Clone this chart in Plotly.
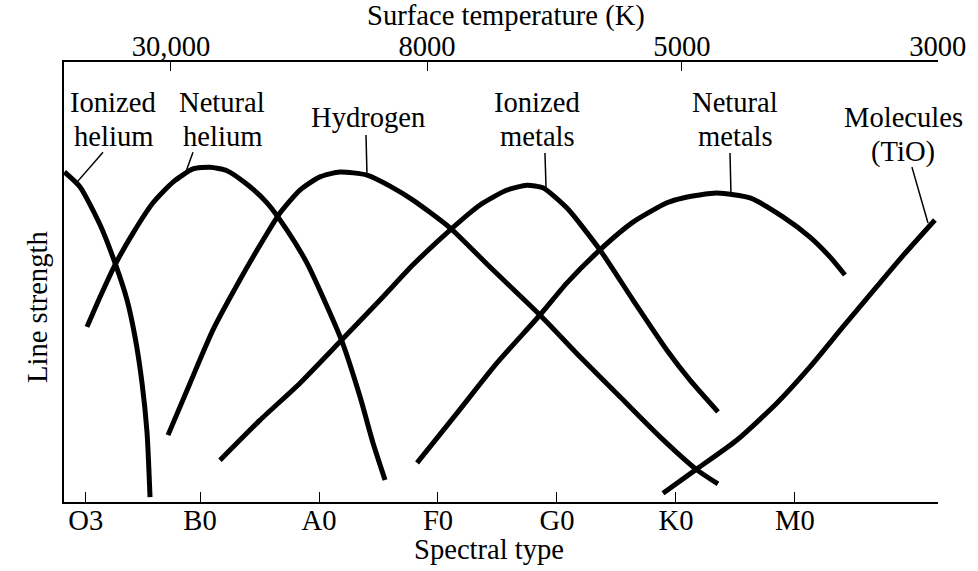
import plotly.graph_objects as go

# ---- Data (x in spectral-type units: B0=1, A0=2, ... M0=6; y = relative line strength) ----
spectral_labels = ["O3", "B0", "A0", "F0", "G0", "K0", "M0"]
spectral_pos = [0.04, 1, 2, 3, 4, 5, 6]

temp_labels = ["30,000", "8000", "5000", "3000"]
temp_pos = [0.756, 2.908, 5.05, 7.20]

ion_he_x = [-0.14, -0.008, 0.160, 0.286, 0.387, 0.454, 0.513, 0.555, 0.580]
ion_he_y = [0.75, 0.716, 0.630, 0.543, 0.459, 0.375, 0.270, 0.157, 0.011]

neu_he_x = [0.050, 0.160, 0.286, 0.437, 0.605, 0.773, 0.941, 1.084, 1.227, 1.395,
            1.563, 1.731, 1.899, 2.067, 2.193, 2.345, 2.454, 2.555]
neu_he_y = [0.398, 0.466, 0.539, 0.611, 0.680, 0.727, 0.757, 0.761, 0.753, 0.722,
            0.680, 0.618, 0.543, 0.445, 0.365, 0.239, 0.134, 0.050]

hyd_x = [0.731, 0.916, 1.109, 1.336, 1.529, 1.672, 1.840, 2.008, 2.176, 2.403,
         2.597, 2.790, 3.101, 3.437, 3.857, 4.193, 4.529, 4.866, 5.176, 5.353]
hyd_y = [0.152, 0.270, 0.391, 0.505, 0.595, 0.657, 0.709, 0.739, 0.750, 0.743,
         0.718, 0.686, 0.623, 0.534, 0.425, 0.330, 0.239, 0.148, 0.073, 0.041]

ion_met_x = [1.168, 1.504, 1.840, 2.176, 2.513, 2.790, 3.101, 3.353, 3.580, 3.748,
             3.882, 4.084, 4.361, 4.639, 4.924, 5.118, 5.353]
ion_met_y = [0.095, 0.186, 0.270, 0.364, 0.459, 0.539, 0.618, 0.675, 0.709, 0.720,
             0.714, 0.668, 0.573, 0.459, 0.345, 0.277, 0.205]

neu_met_x = [2.824, 3.160, 3.496, 3.857, 4.084, 4.361, 4.639, 4.924, 5.059, 5.345,
             5.622, 5.899, 6.126, 6.294, 6.420]
neu_met_y = [0.089, 0.202, 0.316, 0.425, 0.498, 0.573, 0.636, 0.680, 0.691, 0.702,
             0.691, 0.648, 0.602, 0.557, 0.516]

tio_x = [4.891, 5.185, 5.513, 5.849, 6.126, 6.403, 6.689, 6.908, 7.176]
tio_y = [0.020, 0.077, 0.141, 0.225, 0.307, 0.398, 0.490, 0.560, 0.641]

series = [
    (ion_he_x, ion_he_y),
    (neu_he_x, neu_he_y),
    (hyd_x, hyd_y),
    (ion_met_x, ion_met_y),
    (neu_met_x, neu_met_y),
    (tio_x, tio_y),
]

FONT = "Liberation Serif"
FS = 28.6

fig = go.Figure()
for xs, ys in series:
    fig.add_trace(go.Scatter(x=xs, y=ys, mode="lines",
                             line=dict(color="black", width=5, shape="spline", smoothing=0.6),
                             showlegend=False, hoverinfo="skip"))

# dummy trace for the top axis
fig.add_trace(go.Scatter(x=[temp_pos[0]], y=[0.5], xaxis="x2", mode="markers",
                         marker=dict(opacity=0), showlegend=False, hoverinfo="skip"))

# leader lines
leaders = [
    ((-0.034, 0.727), (0.185, 0.795)),
    ((0.874, 0.745), (0.941, 0.795)),
    ((2.403, 0.748), (2.395, 0.834)),
    ((3.908, 0.714), (3.899, 0.793)),
    ((5.462, 0.702), (5.454, 0.793)),
    ((7.118, 0.634), (6.983, 0.761)),
]
for (x0, y0), (x1, y1) in leaders:
    fig.add_shape(type="line", x0=x0, y0=y0, x1=x1, y1=y1, xref="x", yref="y",
                  line=dict(color="black", width=1.5))

labels = [
    (0.269, 0.907, "Ionized"), (0.269, 0.830, "helium"),
    (1.185, 0.907, "Netural"), (1.185, 0.830, "helium"),
    (2.412, 0.873, "Hydrogen"),
    (3.832, 0.907, "Ionized"), (3.832, 0.830, "metals"),
    (5.496, 0.907, "Netural"), (5.496, 0.830, "metals"),
    (6.908, 0.873, "Molecules"), (6.908, 0.795, "(TiO)"),
]
for x, y, t in labels:
    fig.add_annotation(x=x, y=y, xref="x", yref="y", text=t, showarrow=False,
                       font=dict(family=FONT, size=FS, color="black"),
                       xanchor="center", yanchor="middle")

fig.add_annotation(x=0.506, y=1.1045, xref="paper", yref="paper", text="Surface temperature (K)",
                   showarrow=False, font=dict(family=FONT, size=FS, color="black"),
                   xanchor="center", yanchor="middle")
fig.add_annotation(x=0.486, y=-0.107, xref="paper", yref="paper", text="Spectral type",
                   showarrow=False, font=dict(family=FONT, size=FS, color="black"),
                   xanchor="center", yanchor="middle")
fig.add_annotation(x=-0.031, y=0.443, xref="paper", yref="paper", text="Line strength",
                   showarrow=False, textangle=-90, font=dict(family=FONT, size=FS, color="black"),
                   xanchor="center", yanchor="middle")

xr = [-0.143, 7.202]
fig.update_layout(
    width=978, height=571,
    margin=dict(l=64, r=40, t=62, b=69, autoexpand=False),
    paper_bgcolor="white", plot_bgcolor="white",
    font=dict(family=FONT, size=FS, color="black"),
    xaxis=dict(range=xr, tickmode="array", tickvals=spectral_pos, ticktext=spectral_labels,
               showline=True, linecolor="black", linewidth=1.5, ticks="inside", ticklen=10,
               tickwidth=1, tickcolor="black", showgrid=False, zeroline=False, automargin=False,
               ticklabelstandoff=-8,
               tickfont=dict(family=FONT, size=FS), fixedrange=True),
    xaxis2=dict(range=xr, overlaying="x", side="top", tickmode="array", tickvals=temp_pos,
                ticktext=temp_labels, showline=True, linecolor="black", linewidth=1.5,
                ticks="inside", ticklen=9, tickwidth=1, tickcolor="black", showgrid=False,
                zeroline=False, automargin=False, ticklabelstandoff=-7,
                tickfont=dict(family=FONT, size=FS), fixedrange=True),
    yaxis=dict(range=[0, 1], showline=True, linecolor="black", linewidth=1.5, ticks="",
               showticklabels=False, showgrid=False, zeroline=False, automargin=False,
               fixedrange=True),
)

fig.write_html("out.html", config={"displayModeBar": False},
               post_script="document.body.style.margin='0';document.body.style.padding='0';")
